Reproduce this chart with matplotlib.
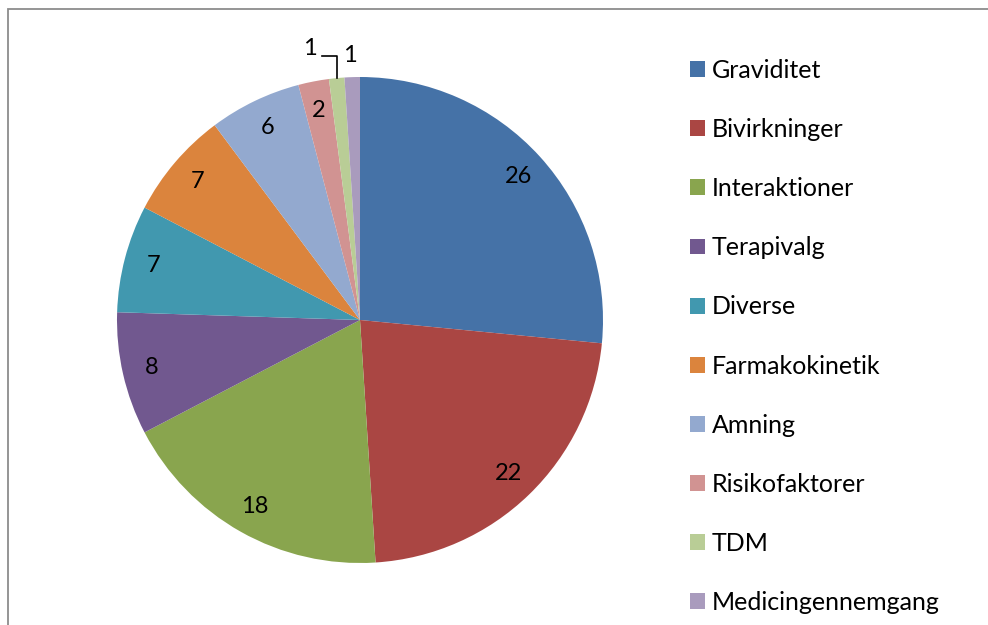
import matplotlib.pyplot as plt
import numpy as np
from matplotlib.patches import Rectangle, Patch

categories = ["Graviditet", "Bivirkninger", "Interaktioner", "Terapivalg", "Diverse",
              "Farmakokinetik", "Amning", "Risikofaktorer", "TDM", "Medicingennemgang"]
values = [26, 22, 18, 8, 7, 7, 6, 2, 1, 1]
colors = ["#4572A7", "#AA4643", "#89A54E", "#71588F", "#4198AF",
          "#DB843D", "#93A9CF", "#D19392", "#B9CD96", "#A99BBD"]

plt.rcParams['font.family'] = ['Lato', 'DejaVu Sans']

fig = plt.figure(figsize=(9.88, 6.25), dpi=100)
ax = fig.add_axes([117 / 988, 62 / 625, 486 / 988, 486 / 625])

wedges, _ = ax.pie(values, colors=colors, startangle=90, counterclock=False,
                   radius=1, wedgeprops=dict(linewidth=0))
ax.set_xlim(-1, 1)
ax.set_ylim(-1, 1)
ax.set_aspect('equal')
ax.axis('off')

# value labels
for i, (w, v) in enumerate(zip(wedges, values)):
    ang = np.deg2rad((w.theta1 + w.theta2) / 2)
    if i < 8:
        r = 0.88
        ax.text(r * np.cos(ang), r * np.sin(ang), str(v), ha='center', va='center',
                fontsize=17, color='black')
    elif i == 8:
        # TDM: label outside with leader line
        x0, y0 = np.cos(ang), np.sin(ang)
        ax.plot([x0, x0, x0 - 0.06], [y0, y0 + 0.09, y0 + 0.09], color='black', lw=1.2,
                clip_on=False)
        ax.text(x0 - 0.11, y0 + 0.12, str(v), ha='center', va='center', fontsize=17)
    else:
        x0, y0 = np.cos(ang), np.sin(ang)
        ax.text(x0 - 0.01, y0 + 0.09, str(v), ha='center', va='center', fontsize=17)

# legend
handles = [Patch(facecolor=c, edgecolor='none') for c in colors]
fig.legend(handles, categories, loc='upper left', bbox_to_anchor=(690 / 988, 1 - 59 / 625),
           frameon=False, fontsize=18, handlelength=0.6, handleheight=0.6,
           handletextpad=0.28, labelspacing=1.444, borderaxespad=0, borderpad=0)

# chart frame
fig.patches.append(Rectangle((8 / 988, -0.05), 1.1, 1 - 9 / 625 + 0.05,
                             transform=fig.transFigure, fill=False,
                             edgecolor='#8c8c8c', linewidth=1.3))

fig.savefig("out.png", dpi=100)
